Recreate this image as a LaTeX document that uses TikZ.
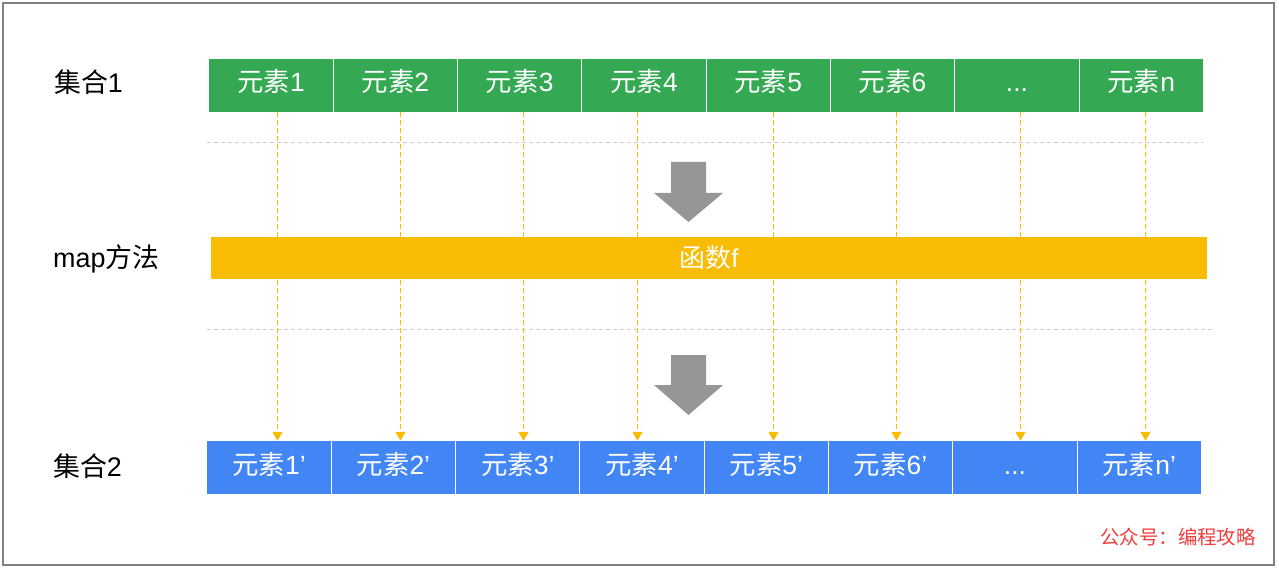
\documentclass[tikz,border=0pt]{standalone}
\usepackage{fontspec}
\setmainfont{Liberation Sans}
\newfontfamily\cjk{Noto Sans CJK SC}
\usepackage{tikz}
\usetikzlibrary{positioning, arrows.meta}
\definecolor{setgreen}{RGB}{52,168,83}
\definecolor{setblue}{RGB}{66,133,244}
\definecolor{funcyellow}{RGB}{249,188,5}
\definecolor{arrowgray}{RGB}{150,150,150}
\definecolor{markred}{RGB}{240,60,60}
\tikzstyle{cell} = [rectangle, minimum width=124.3bp, minimum height=53.5bp,
inner sep=0pt, outer sep=0pt, draw=white, line width=1bp, text=white,
text height=13bp, text depth=0pt, font=\fontsize{26.5}{26.5}\selectfont]
\tikzstyle{elem} = [cell, fill=setgreen]
\tikzstyle{elemnew} = [cell, fill=setblue]
\tikzstyle{setlabel} = [anchor=west, inner sep=0pt, font=\fontsize{27}{27}\selectfont]
\tikzstyle{mapline} = [funcyellow, line width=1.7bp, dash pattern=on 5bp off 3bp,
-{Triangle[width=10bp,length=9bp]}]
\tikzstyle{sepline} = [black!20, line width=1.2bp, dash pattern=on 4bp off 3bp]

\begin{document}
\begin{tikzpicture}[x=1bp,y=-1bp,node distance=0pt]
\useasboundingbox (0,0) rectangle (1279,569);
\draw[black!50, line width=1.5bp] (3,3) rectangle (1274,565);
% set labels
\node (set1) [setlabel] at (54,82) {{\cjk 集合}1};
\node (map) [setlabel] at (53,259) {map{\cjk 方法}};
\node (set2) [setlabel] at (53,466) {{\cjk 集合}2};
% first set
\node (g1) [elem] at (271.1,85.5) {{\cjk 元素}1};
\node (g2) [elem, right=of g1] {{\cjk 元素}2};
\node (g3) [elem, right=of g2] {{\cjk 元素}3};
\node (g4) [elem, right=of g3] {{\cjk 元素}4};
\node (g5) [elem, right=of g4] {{\cjk 元素}5};
\node (g6) [elem, right=of g5] {{\cjk 元素}6};
\node (g7) [elem, right=of g6] {...};
\node (g8) [elem, right=of g7] {{\cjk 元素}n};
% second set
\node (b1) [elemnew] at (269.1,467.5) {{\cjk 元素}1’};
\node (b2) [elemnew, right=of b1] {{\cjk 元素}2’};
\node (b3) [elemnew, right=of b2] {{\cjk 元素}3’};
\node (b4) [elemnew, right=of b3] {{\cjk 元素}4’};
\node (b5) [elemnew, right=of b4] {{\cjk 元素}5’};
\node (b6) [elemnew, right=of b5] {{\cjk 元素}6’};
\node (b7) [elemnew, right=of b6] {...};
\node (b8) [elemnew, right=of b7] {{\cjk 元素}n’};
% dashed separators
\draw[sepline] (207,142.5) -- (1203,142.5);
\draw[sepline] (207,329.5) -- (1212,329.5);
% mapping lines
\foreach \i/\dx in {1/6.4,2/5.1,3/3.8,4/-6.5,5/5.2,6/3.9,7/3.6,8/4.3}
  \draw[mapline] ([xshift=\dx bp]g\i.south) -- ([xshift=\dx bp]g\i.south |- b\i.north);
% function bar
\node (func) [rectangle, fill=funcyellow, minimum width=996bp, minimum height=42bp,
inner sep=0pt, text=white, font=\fontsize{26}{26}\selectfont] at (709,258) {{\cjk 函数}f};
% big arrows
\fill[arrowgray] (671,162) -- (706,162) -- (706,193) -- (723,193) -- (688.5,222)
  -- (654,193) -- (671,193) -- cycle;
\fill[arrowgray] (671,355) -- (706,355) -- (706,385) -- (723,385) -- (688.5,415)
  -- (654,385) -- (671,385) -- cycle;
% watermark
\node (mark) [anchor=east, inner sep=0pt, text=markred,
font=\cjk\fontsize{19.5}{19.5}\selectfont] at (1256,537) {公众号：编程攻略};
\end{tikzpicture}
\end{document}
